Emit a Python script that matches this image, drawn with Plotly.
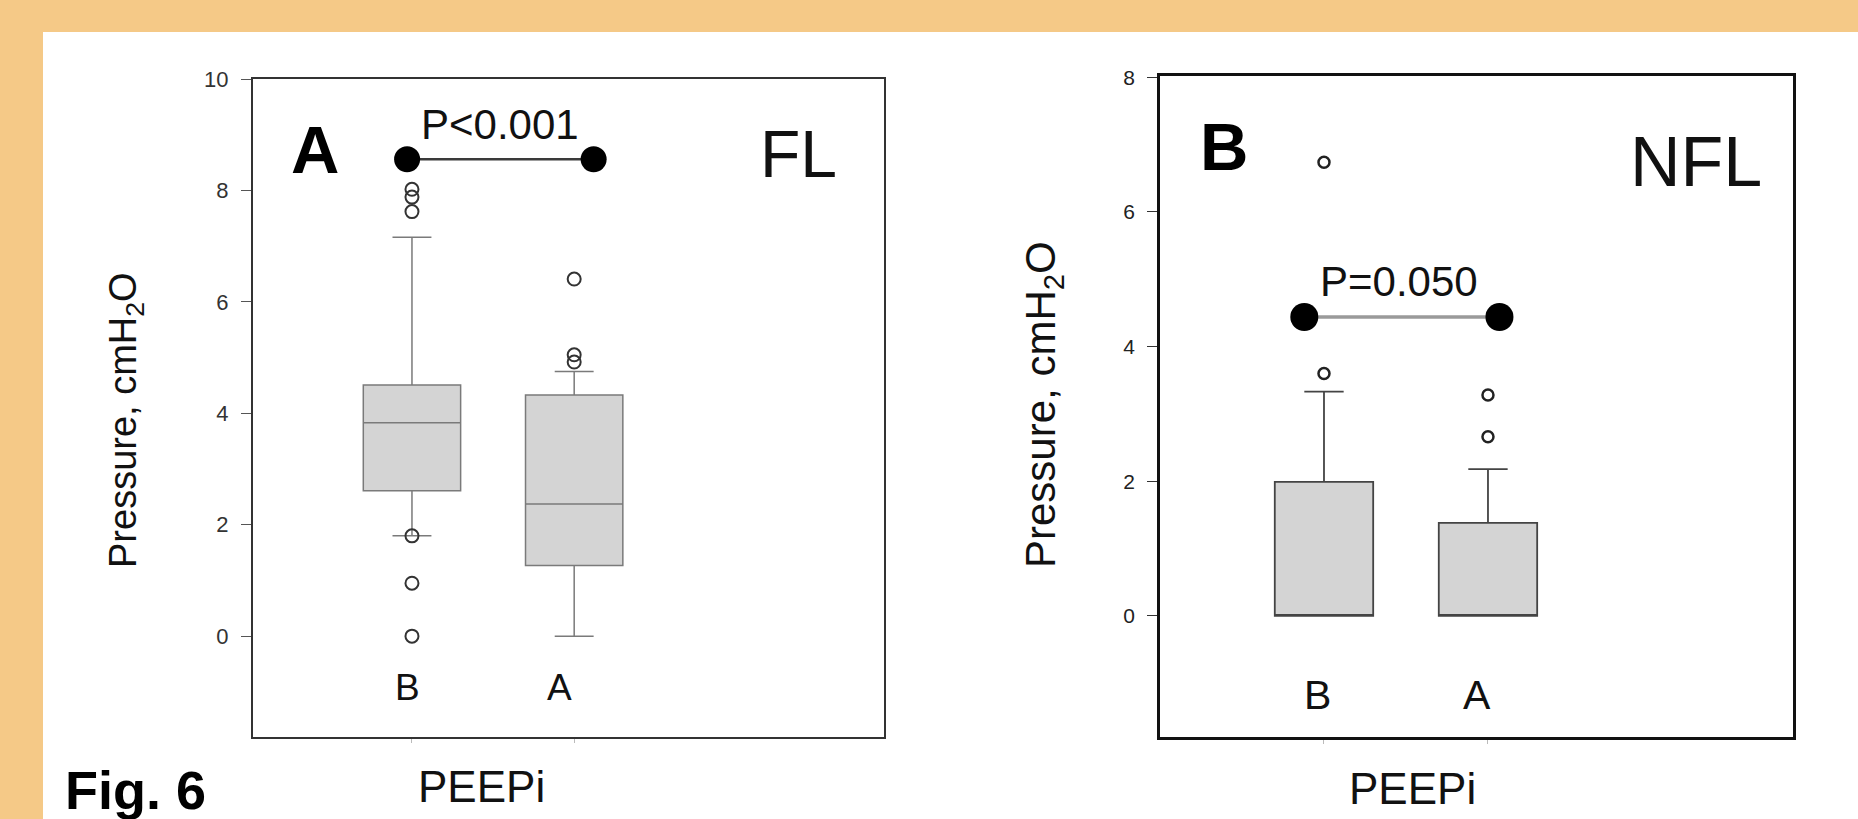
import plotly.graph_objects as go

# ---------------- data ----------------
categories = ["B", "A"]
cat_pos = [1, 2]

# Panel A (FL) box statistics
fl_q1 = [2.61, 1.27]
fl_median = [3.83, 2.37]
fl_q3 = [4.51, 4.33]
fl_lower = [1.80, 0.00]
fl_upper = [7.16, 4.75]
fl_outliers_B = [8.02, 7.88, 7.62, 1.80, 0.95, 0.00]
fl_outliers_A = [6.41, 5.05, 4.92]
fl_p_text = "P<0.001"
fl_p_level = 8.56

# Panel B (NFL) box statistics
nfl_q1 = [0.0, 0.0]
nfl_median = [0.0, 0.0]
nfl_q3 = [1.99, 1.38]
nfl_lower = [0.0, 0.0]
nfl_upper = [3.33, 2.18]
nfl_outliers_B = [6.74, 3.60]
nfl_outliers_A = [3.28, 2.66]
nfl_p_text = "P=0.050"
nfl_p_level = 4.44

fl_yticks = [0, 2, 4, 6, 8, 10]
nfl_yticks = [0, 2, 4, 6, 8]

# ---------------- figure ----------------
W, H = 1858, 819
FONT = "Liberation Sans, Arial, sans-serif"
ORANGE = "#F5C987"


def px(x):
    return x / W


def py(y):
    return 1 - y / H


fig = go.Figure()

# Panel A boxes
for i, cat in enumerate(categories):
    fig.add_trace(go.Box(
        x=[cat_pos[i]], q1=[fl_q1[i]], median=[fl_median[i]], q3=[fl_q3[i]],
        lowerfence=[fl_lower[i]], upperfence=[fl_upper[i]],
        width=0.6, whiskerwidth=0.4, boxpoints=False,
        fillcolor="#D4D4D4", line=dict(color="#7a7a7a", width=1.5),
        xaxis="x", yaxis="y", showlegend=False, hoverinfo="skip"))

fig.add_trace(go.Scatter(
    x=[cat_pos[0]] * len(fl_outliers_B) + [cat_pos[1]] * len(fl_outliers_A),
    y=fl_outliers_B + fl_outliers_A, mode="markers",
    marker=dict(symbol="circle-open", size=13, color="#333", line=dict(width=2)),
    xaxis="x", yaxis="y", showlegend=False, hoverinfo="skip"))

fig.add_trace(go.Scatter(
    x=[0.97, 2.12], y=[fl_p_level, fl_p_level], mode="lines+markers",
    line=dict(color="#3a3a3a", width=2.5),
    marker=dict(size=26, color="black"),
    xaxis="x", yaxis="y", showlegend=False, hoverinfo="skip"))

# Panel B boxes
for i, cat in enumerate(categories):
    fig.add_trace(go.Box(
        x=[cat_pos[i]], q1=[nfl_q1[i]], median=[nfl_median[i]], q3=[nfl_q3[i]],
        lowerfence=[nfl_lower[i]], upperfence=[nfl_upper[i]],
        width=0.6, whiskerwidth=0.4, boxpoints=False,
        fillcolor="#D4D4D4", line=dict(color="#444", width=1.8),
        xaxis="x2", yaxis="y2", showlegend=False, hoverinfo="skip"))

fig.add_trace(go.Scatter(
    x=[cat_pos[0]] * len(nfl_outliers_B) + [cat_pos[1]] * len(nfl_outliers_A),
    y=nfl_outliers_B + nfl_outliers_A, mode="markers",
    marker=dict(symbol="circle-open", size=11, color="#222", line=dict(width=2.5)),
    xaxis="x2", yaxis="y2", showlegend=False, hoverinfo="skip"))

fig.add_trace(go.Scatter(
    x=[0.88, 2.07], y=[nfl_p_level, nfl_p_level], mode="lines+markers",
    line=dict(color="#9a9a9a", width=3.5),
    marker=dict(size=28, color="black"),
    xaxis="x2", yaxis="y2", showlegend=False, hoverinfo="skip"))

axis_common = dict(showgrid=False, zeroline=False, mirror=True, showline=True,
                   automargin=False)

fig.update_layout(
    width=W, height=H, autosize=False, margin=dict(l=0, r=0, t=0, b=0, pad=0),
    paper_bgcolor=ORANGE, plot_bgcolor="white",
    font=dict(family=FONT, color="#222"),
    showlegend=False,
    xaxis=dict(domain=[px(253), px(884)], range=[0.02, 3.91], anchor="y",
               tickvals=cat_pos, ticktext=["", ""], ticks="outside",
               ticklen=4, tickcolor="#bbb", linecolor="#333", linewidth=2,
               **axis_common),
    yaxis=dict(domain=[py(737), py(79)], range=[-1.81, 10.0], anchor="x",
               tickvals=fl_yticks, ticks="outside", ticklen=10, tickcolor="#555",
               tickfont=dict(size=22, color="#333"), ticklabelstandoff=8,
               linecolor="#333", linewidth=2, **axis_common),
    xaxis2=dict(domain=[px(1160), px(1793)], range=[0.0, 3.86], anchor="y2",
                tickvals=cat_pos, ticktext=["", ""], ticks="outside",
                ticklen=4, tickcolor="#bbb", linecolor="#111", linewidth=2.5,
                **axis_common),
    yaxis2=dict(domain=[py(737), py(76)], range=[-1.8, 8.02], anchor="x2",
                tickvals=nfl_yticks, ticks="outside", ticklen=10, tickcolor="#333",
                tickfont=dict(size=21, color="#222"), ticklabelstandoff=8,
                linecolor="#111", linewidth=2.5, **axis_common),
)

# White page area
fig.add_shape(type="rect", xref="paper", yref="paper", layer="below",
              x0=px(43), x1=1, y0=0, y1=py(32), fillcolor="white", line_width=0)

ann = []
# Panel A texts
ann.append(dict(x=1.54, y=9.19, xref="x", yref="y", text=fl_p_text,
                font=dict(size=42, color="#111")))
ann.append(dict(x=0.40, y=8.74, xref="x", yref="y", text="<b>A</b>",
                font=dict(size=67, color="black")))
ann.append(dict(x=3.38, y=8.65, xref="x", yref="y", text="FL",
                font=dict(size=66, color="#111")))
for i, cat in enumerate(categories):
    ann.append(dict(x=[0.97, 1.91][i], y=-0.93, xref="x", yref="y", text=cat,
                    font=dict(size=37, color="#111")))
# Panel B texts
ann.append(dict(x=1.46, y=4.96, xref="x2", yref="y2", text=nfl_p_text,
                font=dict(size=42, color="#111")))
ann.append(dict(x=0.39, y=6.98, xref="x2", yref="y2", text="<b>B</b>",
                font=dict(size=67, color="black")))
ann.append(dict(x=3.27, y=6.74, xref="x2", yref="y2", text="NFL",
                font=dict(size=70, color="#111")))
for i, cat in enumerate(categories):
    ann.append(dict(x=[0.96, 1.93][i], y=-1.18, xref="x2", yref="y2", text=cat,
                    font=dict(size=41, color="#111")))

# Axis titles
ann.append(dict(x=px(126), y=py(420), xref="paper", yref="paper",
                text="Pressure, cmH<sub>2</sub>O", textangle=-90,
                font=dict(size=38, color="#111")))
ann.append(dict(x=px(1043), y=py(405), xref="paper", yref="paper",
                text="Pressure, cmH<sub>2</sub>O", textangle=-90,
                font=dict(size=42, color="#111")))
ann.append(dict(x=px(481), y=py(786), xref="paper", yref="paper", text="PEEPi",
                font=dict(size=44, color="#111")))
ann.append(dict(x=px(1412), y=py(788), xref="paper", yref="paper", text="PEEPi",
                font=dict(size=44, color="#111")))
ann.append(dict(x=px(63), y=py(790), xref="paper", yref="paper", text="<b>Fig. 6</b>",
                xanchor="left", font=dict(size=54, color="black")))

for a in ann:
    a.setdefault("showarrow", False)
    a.setdefault("xanchor", "center")
    a.setdefault("yanchor", "middle")
    fig.add_annotation(**a)

fig.write_html(
    "out.html",
    config={"displayModeBar": False},
    post_script="document.body.style.margin='0';document.body.style.overflow='hidden';",
)
